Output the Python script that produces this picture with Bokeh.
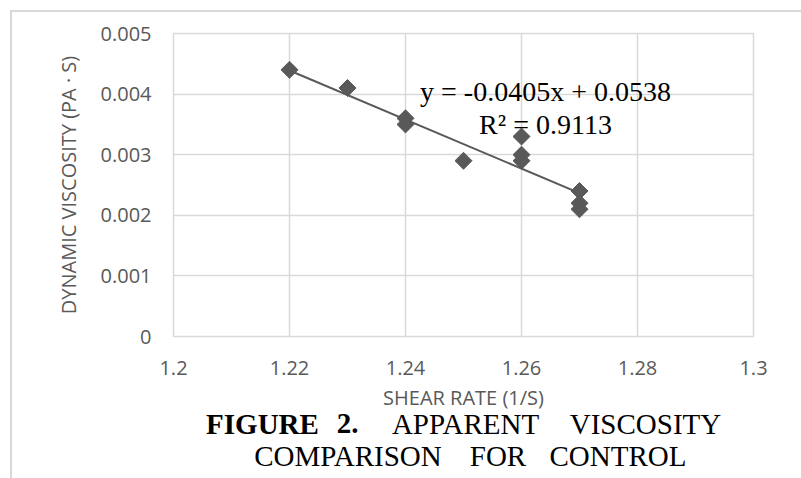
from bokeh.plotting import figure
from bokeh.models import Label, FixedTicker, Range1d
from bokeh.layouts import column
from bokeh.embed import file_html
from bokeh.resources import INLINE
from bokeh.core.properties import value

# ---- data ----
shear_rate = [1.22, 1.23, 1.24, 1.24, 1.25, 1.26, 1.26, 1.26, 1.27, 1.27, 1.27]
viscosity = [0.0044, 0.0041, 0.0036, 0.0035, 0.0029, 0.0033, 0.0030, 0.0029, 0.0024, 0.0022, 0.0021]

trend_slope = -0.0405
trend_intercept = 0.0538
trend_r2 = 0.9113

x_ticks = [1.2, 1.22, 1.24, 1.26, 1.28, 1.3]
x_tick_labels = ["1.2", "1.22", "1.24", "1.26", "1.28", "1.3"]
y_ticks = [0, 0.001, 0.002, 0.003, 0.004, 0.005]
y_tick_labels = ["0", "0.001", "0.002", "0.003", "0.004", "0.005"]

x_label = "SHEAR RATE (1/S)"
y_label = "DYNAMIC VISCOSITY (PA \u00b7 S)"
caption_bold = ["FIGURE", "2."]
caption_line1 = ["APPARENT", "VISCOSITY"]
caption_line2 = ["COMPARISON", "FOR", "CONTROL"]

# ---- styling ----
GRID = "#d9d9d9"
TXT = "#595959"
MARK = "#595959"
SANS = "Open Sans"
SERIF = "Liberation Serif"

X0, X1 = x_ticks[0], x_ticks[-1]
Y0, Y1 = y_ticks[0], y_ticks[-1]

W = 789
H_MAIN = 404
OVERLAP = 14
H_CAP = 466 - H_MAIN + OVERLAP
FL, FR, FT, FB = 173, 753, 33, 336   # frame edges in page pixels
BL = FL - 12
BR = 12 + W - FR

p = figure(width=W, height=H_MAIN, output_backend="svg", toolbar_location=None,
           x_range=Range1d(X0, X1), y_range=Range1d(Y0, Y1),
           min_border_left=BL, min_border_top=FT - 12, min_border_right=BR,
           min_border_bottom=H_MAIN - (FB - 12),
           background_fill_color="white", border_fill_color="white")

p.outline_line_color = GRID
p.outline_line_width = 1.5

for ax, ticks, labels in ((p.xaxis[0], x_ticks, x_tick_labels), (p.yaxis[0], y_ticks, y_tick_labels)):
    ax.ticker = FixedTicker(ticks=ticks)
    ax.major_label_overrides = {t: l for t, l in zip(ticks, labels)}
    ax.axis_line_color = None
    ax.major_tick_line_color = None
    ax.minor_tick_line_color = None
    ax.major_tick_out = 0
    ax.major_tick_in = 0
    ax.major_label_text_font = SANS
    ax.major_label_text_font_size = "20px"
    ax.major_label_text_color = TXT
    ax.axis_label_text_font = SANS
    ax.axis_label_text_font_size = "20px"
    ax.axis_label_text_font_style = "normal"
    ax.axis_label_text_color = TXT

p.xaxis.axis_label = x_label
p.yaxis.axis_label = y_label
p.xaxis.major_label_standoff = 24
p.yaxis.major_label_standoff = 22
p.xaxis.axis_label_standoff = 6
p.yaxis.axis_label_standoff = 16

p.xgrid.grid_line_color = GRID
p.ygrid.grid_line_color = GRID
p.xgrid.grid_line_width = 1.5
p.ygrid.grid_line_width = 1.5

# trend line over the data's x extent
tx = [min(shear_rate), max(shear_rate)]
ty = [trend_slope * x + trend_intercept for x in tx]
p.line(tx, ty, line_color=MARK, line_width=2)

p.scatter(shear_rate, viscosity, marker="square", angle=0.785398, size=12,
          fill_color=MARK, line_color=MARK)

# page-pixel -> data helpers for text placement
def dx(px):
    return X0 + (px - FL) / (FR - FL) * (X1 - X0)
def dy(py):
    return Y0 + (FB - py) / (FB - FT) * (Y1 - Y0)

eq_text = "y = %sx + %s" % (trend_slope, trend_intercept)
r2_text = "R\u00b2 = %s" % trend_r2
for txt, base in ((eq_text, 91), (r2_text, 124)):
    p.add_layout(Label(x=dx(545), y=dy(base), text=txt, text_align="center",
                       text_baseline="alphabetic", text_font=SERIF,
                       text_font_size="28px", text_color="black"))

# ---- caption panel (transparent, slightly overlapping the chart panel) ----
cap = figure(width=W, height=H_CAP, output_backend="svg", toolbar_location=None,
             x_range=Range1d(FL, FR), y_range=Range1d(0, H_CAP),
             min_border_left=BL, min_border_right=BR,
             min_border_top=0, min_border_bottom=0,
             background_fill_color=None, border_fill_color=None)
cap.axis.visible = False
cap.grid.visible = False
cap.outline_line_color = None
cap.styles = {"margin-top": "-%dpx" % OVERLAP}

PAGE_BOTTOM = 478
def cy(page_baseline):
    return PAGE_BOTTOM - (page_baseline - 11)

bold_x = [262, 347]
bold_y = [cy(434)] * 2
norm_words = caption_line1 + caption_line2
norm_x = [465, 645, 347.5, 497.5, 617.5]
norm_y = [cy(434)] * 2 + [cy(466)] * 3

cap.text(x=bold_x, y=bold_y, text=caption_bold, text_align="center",
         text_baseline="alphabetic", text_font=value(SERIF),
         text_font_size="29px", text_font_style="bold", text_color="black")
cap.text(x=norm_x, y=norm_y, text=norm_words, text_align="center",
         text_baseline="alphabetic", text_font=value(SERIF),
         text_font_size="29px", text_font_style="normal", text_color="black")

layout = column(p, cap, spacing=0)
layout.styles = {"margin-left": "10px", "margin-top": "10px",
                 "border-left": "2px solid #d9d9d9", "border-top": "2px solid #d9d9d9"}

open("out.html", "w").write(file_html(layout, INLINE))
